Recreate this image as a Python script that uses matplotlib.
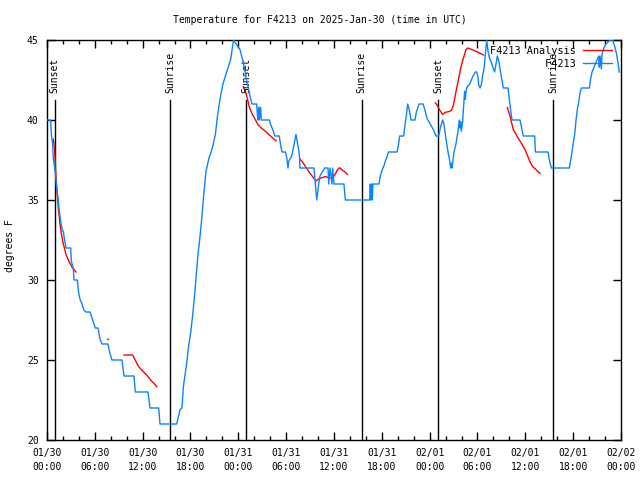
import matplotlib
matplotlib.use("Agg")
import matplotlib.pyplot as plt
import matplotlib.dates as mdates
from datetime import datetime, timedelta

# ---------------- data ----------------
base_time = datetime(2025, 1, 30, 0, 0)

# observed F4213 temperature (hours since 01/30 00:00 UTC, deg F)
obs_hours = [0.0, 0.46, 0.54, 0.71, 0.79, 1.05, 1.21, 1.38, 1.55, 1.71, 1.88, 2.05, 2.22, 2.38,
             2.97, 3.05, 3.30, 3.39, 3.81, 3.97, 4.14, 4.39, 4.64, 4.89, 5.39, 5.73, 6.06, 6.40,
             6.65, 6.90, 7.65, 7.90, 8.15, 9.41, 9.66, 10.91, 11.08, 12.67, 12.92, 14.01, 14.17,
             16.27, 16.69, 16.93, 17.10, 17.35, 17.52, 17.77, 18.02, 18.27, 18.52, 18.77, 18.94,
             19.19, 19.44, 19.69, 19.95, 20.36, 20.53, 20.86, 21.12, 21.37, 21.70, 22.04, 22.54,
             23.04, 23.40, 24.21, 24.54, 24.79, 25.05, 25.21, 25.46, 25.71, 26.30, 26.38, 26.47,
             26.55, 26.63, 26.80, 26.88, 27.89, 28.06, 28.22, 28.39, 28.56, 29.14, 29.31, 29.48,
             29.90, 30.06, 30.23, 30.31, 30.73, 31.23, 31.65, 31.73, 33.49, 33.66, 33.83, 34.08,
             34.24, 34.83, 35.25, 35.33, 35.50, 35.75, 35.83, 36.00, 37.25, 37.42,
             40.39, 40.47, 40.55, 40.64, 40.72, 40.80, 40.89, 41.06, 41.64, 41.81, 41.98, 42.15,
             42.31, 42.48, 42.65, 42.82, 43.90, 44.07, 44.24, 44.74, 44.91, 45.08, 45.24, 45.41,
             45.66, 46.16, 46.33, 46.67, 47.17, 47.42, 47.67, 48.00,
             48.46, 48.79, 49.13, 49.38, 49.63, 49.80, 50.05, 50.30, 50.47, 50.63, 50.72, 50.80,
             51.05, 51.30, 51.55, 51.72, 51.80, 51.89, 51.97, 52.14, 52.22, 52.39, 52.47, 52.56,
             52.72, 52.98, 53.23, 53.48, 53.73, 53.90, 54.06, 54.15, 54.32, 54.48, 54.65, 54.82,
             54.98, 55.15, 55.32, 55.49, 55.74, 55.99, 56.15, 56.32, 56.49, 56.66, 56.82, 56.99,
             57.24, 57.83, 57.99, 58.16, 58.33, 59.33, 59.50, 59.75, 61.17, 61.26, 62.85, 63.01,
             63.26, 65.52, 65.69, 65.86, 66.02, 66.19, 66.36, 66.53, 66.69, 66.86, 67.03, 68.03,
             68.20, 68.37, 68.53, 68.78, 69.03, 69.20, 69.28, 69.37, 69.53, 69.62, 69.78, 70.03,
             70.62, 70.95, 71.21, 71.46, 71.71, 71.79]
obs_temps = [40.0, 40.0, 39.1, 38.5, 37.6, 36.7, 35.8, 35.1, 34.3, 33.7, 33.2, 33.0, 32.5, 32.0,
             32.0, 31.2, 30.7, 30.0, 30.0, 29.2, 28.8, 28.5, 28.1, 28.0, 28.0, 27.5, 27.0, 27.0,
             26.3, 26.0, 26.0, 25.4, 25.0, 25.0, 24.0, 24.0, 23.0, 23.0, 22.0, 22.0, 21.0,
             21.0, 21.9, 22.0, 23.3, 24.2, 24.8, 25.9, 26.7, 27.8, 29.1, 30.6, 31.6,
             32.7, 34.0, 35.5, 36.8, 37.7, 37.9, 38.5, 39.1, 40.2, 41.3, 42.2, 43.0,
             43.8, 45.0, 44.4, 43.75, 43.2, 42.4, 42.1, 41.5, 41.0, 41.0, 40.4, 40.0,
             40.8, 40.0, 40.8, 40.0, 40.0, 39.7, 39.5, 39.3, 39.0, 39.0, 38.4, 38.0,
             38.0, 37.7, 37.0, 37.4, 37.8, 39.1, 37.9, 37.0, 37.0, 36.0, 35.0, 36.0,
             36.5, 37.0, 37.0, 36.0, 37.0, 36.0, 37.0, 36.0, 36.0, 35.0,
             35.0, 35.0, 36.0, 35.0, 36.0, 35.0, 36.0, 36.0, 36.0, 36.5, 36.8, 37.0,
             37.2, 37.5, 37.7, 38.0, 38.0, 38.4, 39.0, 39.0, 39.7, 40.3, 41.0, 40.7,
             40.0, 40.0, 40.5, 41.0, 41.0, 40.6, 40.1, 39.8,
             39.4, 39.0, 39.0, 39.6, 40.0, 39.7, 38.8, 38.0, 37.6, 37.0, 37.3, 37.0,
             38.0, 38.5, 39.3, 40.0, 39.5, 39.9, 39.3, 39.9, 40.6, 41.8, 41.3, 41.8,
             42.1, 42.2, 42.5, 42.8, 43.0, 43.0, 42.7, 42.2, 42.0, 42.2, 42.8, 43.2,
             44.1, 45.0, 44.3, 43.9, 43.6, 43.2, 43.0, 43.5, 44.0, 43.7, 43.2, 42.7,
             42.0, 42.0, 41.3, 40.6, 40.0, 40.0, 39.6, 39.0, 39.0, 38.0, 38.0, 37.5,
             37.0, 37.0, 37.5, 38.0, 38.6, 39.1, 40.0, 40.7, 41.1, 41.7, 42.0, 42.0,
             42.6, 43.0, 43.2, 43.5, 43.8, 44.0, 43.3, 44.0, 43.2, 44.1, 44.4, 44.7,
             45.0, 45.0, 44.6, 44.1, 43.3, 43.0]

# F4213 Analysis runs (separate segments)
ana1_hours = [0.79, 0.96, 1.13, 1.30, 1.46, 1.63, 1.80, 2.05, 2.38, 2.72, 3.14, 3.64]
ana1_temps = [38.8, 38.1, 36.4, 35.2, 34.3, 33.5, 32.9, 32.25, 31.6, 31.2, 30.8, 30.5]
ana2_hours = [7.62, 7.68]
ana2_temps = [26.3, 26.28]
ana3_hours = [9.66, 10.74, 11.0, 11.42, 11.75, 12.17, 12.59, 13.0, 13.42, 13.76]
ana3_temps = [25.31, 25.31, 25.06, 24.65, 24.44, 24.23, 24.02, 23.75, 23.54, 23.33]
ana4_hours = [24.63, 24.88, 25.13, 25.38, 25.71, 26.05, 26.47, 26.88, 27.39, 27.89, 28.39, 28.73]
ana4_temps = [42.08, 41.8, 41.35, 40.8, 40.4, 40.1, 39.7, 39.5, 39.3, 39.06, 38.85, 38.7]
ana5_hours = [31.74, 32.15, 32.57, 32.99, 33.41, 33.74, 34.08, 34.50, 34.91, 35.33, 35.75,
              36.09, 36.42, 36.67, 37.01, 37.34, 37.68]
ana5_temps = [37.56, 37.3, 36.98, 36.67, 36.4, 36.19, 36.31, 36.4, 36.46, 36.4, 36.35,
              36.56, 36.88, 37.02, 36.88, 36.77, 36.6]
ana6_hours = [48.71, 48.96, 49.29, 49.63, 49.96, 50.38, 50.72, 50.97, 51.22, 51.55, 51.89,
              52.22, 52.56, 52.81, 53.31, 53.90, 54.32, 54.74]
ana6_temps = [41.08, 40.9, 40.6, 40.35, 40.48, 40.52, 40.6, 40.9, 41.56, 42.4, 43.23,
              43.85, 44.4, 44.5, 44.4, 44.27, 44.17, 44.06]
ana7_hours = [57.74, 57.99, 58.24, 58.49, 58.74, 58.99, 59.25, 59.58, 59.91, 60.25, 60.58,
              60.92, 61.25, 61.59, 61.84]
ana7_temps = [40.77, 40.4, 39.9, 39.4, 39.2, 38.96, 38.75, 38.48, 38.2, 37.8, 37.4,
              37.08, 36.94, 36.77, 36.67]

# sun events (hours since 01/30 00:00 UTC)
event_hours = [0.98, 15.43, 25.0, 39.45, 49.07, 63.47]
event_names = ["Sunset", "Sunrise", "Sunset", "Sunrise", "Sunset", "Sunrise"]

title = "Temperature for F4213 on 2025-Jan-30 (time in UTC)"

# ---------------- plot ----------------
FONT = "DejaVu Sans Mono"
FS = 7
plt.rcParams["font.family"] = FONT
plt.rcParams["font.size"] = FS

def to_dt(hours):
    return [base_time + timedelta(hours=h) for h in hours]

fig = plt.figure(figsize=(6.4, 4.8), dpi=100)
ax = fig.add_axes([47 / 640, 40 / 480, 574 / 640, 400 / 480])

RED = "#ff0000"
BLUE = "#0a84ff"

runs = [(ana1_hours, ana1_temps), (ana2_hours, ana2_temps), (ana3_hours, ana3_temps),
        (ana4_hours, ana4_temps), (ana5_hours, ana5_temps), (ana6_hours, ana6_temps),
        (ana7_hours, ana7_temps)]
for i, (hh, tt) in enumerate(runs):
    ax.plot(to_dt(hh), tt, color=RED, lw=1.0,
            label="F4213 Analysis" if i == 0 else None, zorder=3)
ax.plot(to_dt(obs_hours), obs_temps, color=BLUE, lw=1.0, label="         F4213", zorder=4)

for h, name in zip(event_hours, event_names):
    t = base_time + timedelta(hours=h)
    ax.plot([t, t], [20, 41.25], color="black", lw=1.0, zorder=2)
    ax.text(t, 41.7, name, rotation=90, ha="center", va="bottom", fontsize=FS)

ax.set_xlim(base_time, base_time + timedelta(hours=72))
ax.set_ylim(20, 45)
ax.xaxis.set_major_locator(mdates.HourLocator(byhour=range(0, 24, 6)))
ax.xaxis.set_minor_locator(mdates.HourLocator(byhour=range(0, 24, 2)))
ax.xaxis.set_major_formatter(mdates.DateFormatter("%m/%d\n%H:%M"))
ax.set_yticks([20, 25, 30, 35, 40, 45])
ax.tick_params(direction="in", which="both", top=True, right=True, labelsize=FS,
               width=1.0, color="black")
ax.tick_params(which="major", length=6)
ax.tick_params(which="minor", length=3)
ax.tick_params(axis="x", pad=6)
ax.tick_params(axis="y", pad=6)
for lbl in ax.get_xticklabels():
    lbl.set_linespacing(1.5)
for s in ax.spines.values():
    s.set_linewidth(1.0)
    s.set_color("black")

fig.text(0.5, 1 - 20 / 480, title, ha="center", va="center", fontsize=FS)
fig.text(10 / 640, 1 - 246 / 480, "degrees F", rotation=90, ha="center", va="center",
         fontsize=FS)

leg = ax.legend(loc="upper right", bbox_to_anchor=(612 / 640, 1 - 46 / 480),
                bbox_transform=fig.transFigure, frameon=False, markerfirst=False,
                handlelength=2.8, handletextpad=0.7, labelspacing=0.3, borderpad=0,
                borderaxespad=0, fontsize=7.4)

fig.savefig("out.png", dpi=100)
